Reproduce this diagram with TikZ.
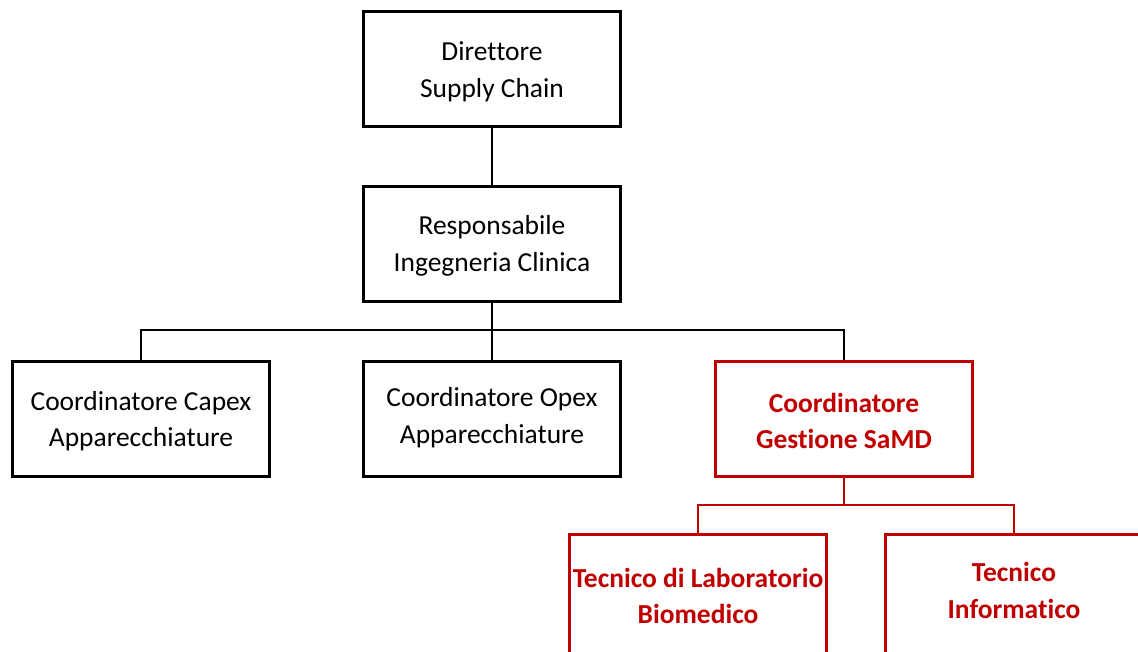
\documentclass[tikz,border=0pt]{standalone}
\usepackage{fontspec}
\setmainfont{Carlito}[Ligatures={NoCommon,NoRequired,NoContextual}]
\definecolor{orgred}{HTML}{C00000}
\begin{document}
\begin{tikzpicture}[x=0.75pt,y=-0.75pt,
  box/.style={draw=black,line width=2.25pt,minimum width=193pt,minimum height=86.5pt,inner sep=0pt},
  redbox/.style={box,draw=orgred},
  tallbox/.style={redbox,minimum height=105pt},
  txt/.style={align=center,inner sep=0pt,font=\fontsize{20.6}{27.5}\selectfont,text=black},
  redtxt/.style={txt,text=orgred,font=\fontsize{20.6}{27.5}\selectfont\bfseries},
  link/.style={line width=1.5pt,draw=black},
  redlink/.style={line width=1.5pt,draw=orgred}]
\clip (0,0) rectangle (1138,651);
\fill[white] (0,0) rectangle (1138,651);
\node[box] (dir) at (492,69) {};
\node[box] (resp) at (492,244) {};
\node[box] (capex) at (141,419) {};
\node[box] (opex) at (492,419) {};
\node[redbox] (samd) at (844,419) {};
\node[tallbox] (lab) at (698,604) {};
\node[tallbox] (info) at (1014,604) {};
\node[txt] (dirT) at (492,71.5) {Direttore\\Supply Chain};
\node[txt] (respT) at (492,246) {Responsabile\\Ingegneria Clinica};
\node[txt] (capexT) at (141,421) {Coordinatore Capex\\Apparecchiature};
\node[txt] (opexT) at (492,417.5) {Coordinatore Opex\\Apparecchiature};
\node[redtxt] (samdT) at (844,421) {Coordinatore\\Gestione SaMD};
\node[redtxt] (labT) at (698,596) {Tecnico di Laboratorio\\Biomedico};
\node[redtxt] (infoT) at (1014,590.5) {Tecnico\\Informatico};
\coordinate (j1) at (492,330);
\coordinate (j2) at (844,505);
\draw[link] (dir) -- (resp);
\draw[link] (resp.south) -- (j1);
\draw[link] (capex.north) |- (j1) -| (samd.north);
\draw[link] (j1) -- (opex.north);
\draw[redlink] (samd.south) -- (j2);
\draw[redlink] (lab.north) |- (j2) -| (info.north);
\end{tikzpicture}
\end{document}
